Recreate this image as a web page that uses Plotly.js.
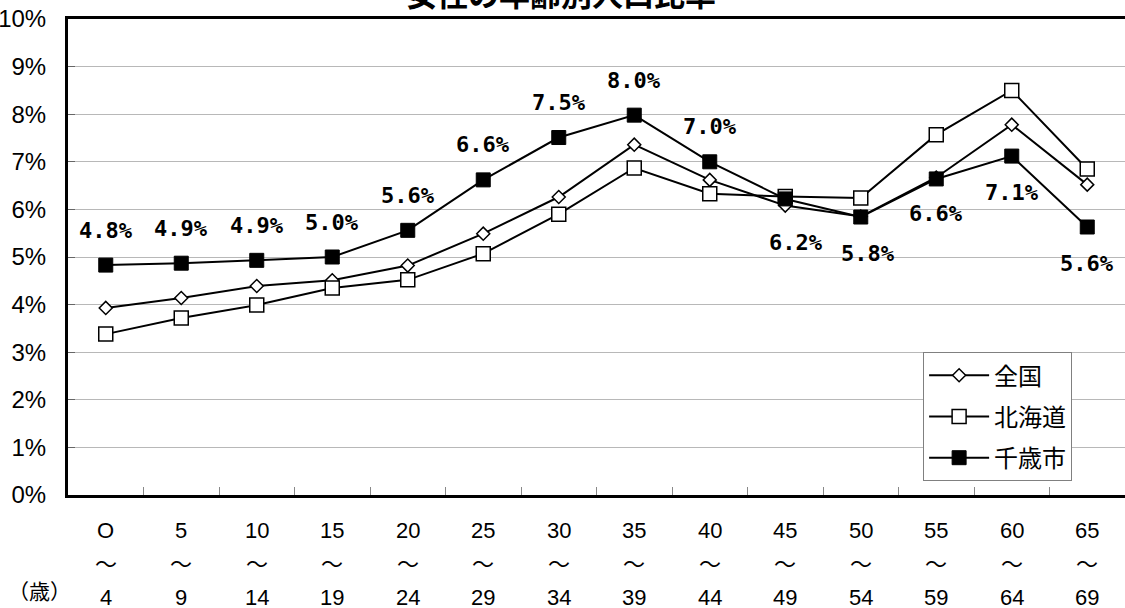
<!DOCTYPE html>
<html>
<head>
<meta charset="utf-8">
<script src="https://cdn.plot.ly/plotly-3.0.1.min.js"></script>
<style>
  html, body { margin: 0; padding: 0; background: #fff; }
  #chart { width: 1125px; height: 608px; }
</style>
</head>
<body>
<div id="chart"></div>
<script>
// Age bands (lower and upper bound of each five-year band)
const ageFrom = ['O', '5', '10', '15', '20', '25', '30', '35', '40', '45', '50', '55', '60', '65'];
const ageTo   = ['4', '9', '14', '19', '24', '29', '34', '39', '44', '49', '54', '59', '64', '69'];

// Share of the female population in each age band (%)
const zenkoku  = [3.93, 4.14, 4.39, 4.51, 4.82, 5.49, 6.26, 7.36, 6.62, 6.08, 5.85, 6.67, 7.78, 6.52];
const hokkaido = [3.38, 3.72, 3.99, 4.35, 4.52, 5.07, 5.90, 6.87, 6.33, 6.27, 6.24, 7.57, 8.50, 6.85];
const chitose  = [4.83, 4.87, 4.93, 5.00, 5.56, 6.62, 7.51, 7.98, 7.00, 6.22, 5.84, 6.64, 7.12, 5.63];

const seriesNames = ['全国', '北海道', '千歳市'];
const chartTitle = '女性の年齢別人口比率';

// Placement of the value labels for 千歳市 (pixel offsets from the marker)
const labelYShift = [35, 35, 35, 35, 35, 35, 35, 35, 35, -44, -36, -35, -36, -36];
const labelXShift = [0, 0, 0, 0, 0, 0, 0, 0, 0, 11, 7, 0, 0, 0];

const categories = ageFrom.map((a, i) => a + '～' + ageTo[i]);

const JP = '"Noto Sans CJK JP", "Noto Sans", sans-serif';
const NARROW = '"Liberation Sans Narrow", "Liberation Sans", Arial, sans-serif';
const MONO = '"DejaVu Sans Mono", "Liberation Mono", monospace';

const lineStyle = { color: '#000', width: 2 };

const traces = [
  {
    x: categories, y: zenkoku, name: seriesNames[0], legendgroup: 'a',
    type: 'scatter', mode: 'lines+markers', line: lineStyle,
    marker: { symbol: 'diamond', size: 10, color: '#fff', line: { color: '#000', width: 1.5 } }
  },
  {
    x: categories, y: hokkaido, name: seriesNames[1], legendgroup: 'b',
    type: 'scatter', mode: 'lines+markers', line: lineStyle,
    marker: { symbol: 'square', size: 14, color: '#fff', line: { color: '#000', width: 1.5 } }
  },
  {
    x: categories, y: chitose, name: seriesNames[2], legendgroup: 'c',
    type: 'scatter', mode: 'lines+markers', line: lineStyle,
    marker: { symbol: 'square', size: 14, color: '#000', line: { color: '#000', width: 1 } }
  }
];

const annotations = [];

// Chart title, sitting above the top frame line
annotations.push({
  x: 0.4665, y: 1, xref: 'paper', yref: 'paper', yshift: 27,
  text: chartTitle, showarrow: false, xanchor: 'center', yanchor: 'middle',
  font: { family: JP, size: 31, color: '#000', weight: 700 }
});

// Value labels for 千歳市
chitose.forEach((v, i) => {
  annotations.push({
    x: categories[i], y: v, xref: 'x', yref: 'y',
    text: v.toFixed(1) + '%', showarrow: false,
    xanchor: 'center', yanchor: 'middle',
    yshift: labelYShift[i], xshift: labelXShift[i],
    font: { family: MONO, size: 22, color: '#000', weight: 700 }
  });
});

// Three-row category labels: lower bound, wave dash, upper bound
categories.forEach((c, i) => {
  const rows = [[ageFrom[i], -35, NARROW, 22], ['～', -67, JP, 22], [ageTo[i], -102, NARROW, 22]];
  rows.forEach(([t, shift, fam, sz]) => {
    annotations.push({
      x: c, y: 0, xref: 'x', yref: 'paper',
      text: t, showarrow: false, xanchor: 'center', yanchor: 'middle',
      yshift: shift, font: { family: fam, size: sz, color: '#000' }
    });
  });
});

// Unit label
annotations.push({
  x: 0, y: 0, xref: 'paper', yref: 'paper', xshift: -29, yshift: -95,
  text: '（歳）', showarrow: false, xanchor: 'center', yanchor: 'middle',
  font: { family: JP, size: 21, color: '#000' }
});

const layout = {
  width: 1125, height: 608,
  paper_bgcolor: '#fff', plot_bgcolor: '#fff',
  margin: { l: 68, r: 0, t: 19, b: 113, pad: 0 },
  showlegend: true,
  legend: {
    x: 0.809, xanchor: 'left', y: 0.30, yanchor: 'top',
    bgcolor: '#fff', bordercolor: '#808080', borderwidth: 1,
    font: { family: JP, size: 24, color: '#000' },
    traceorder: 'grouped', tracegroupgap: 7,
    itemwidth: 60
  },
  xaxis: {
    type: 'category',
    range: [-0.5, categories.length - 0.5],
    showticklabels: false,
    showgrid: false,
    ticks: 'inside', tickson: 'boundaries', ticklen: 8, tickcolor: '#888', tickwidth: 1,
    showline: true, linecolor: '#000', linewidth: 3, mirror: true,
    zeroline: false, fixedrange: true
  },
  yaxis: {
    range: [0, 10], dtick: 1, ticksuffix: '%',
    showgrid: true, gridcolor: '#b8b8b8', gridwidth: 1,
    ticks: 'inside', ticklen: 7, tickcolor: '#666', tickwidth: 1,
    ticklabelstandoff: 14,
    tickfont: { family: NARROW, size: 24, color: '#000' },
    showline: true, linecolor: '#000', linewidth: 3, mirror: true,
    zeroline: false, fixedrange: true
  },
  annotations: annotations
};

Plotly.newPlot('chart', traces, layout, { displayModeBar: false, staticPlot: true });
</script>
</body>
</html>
